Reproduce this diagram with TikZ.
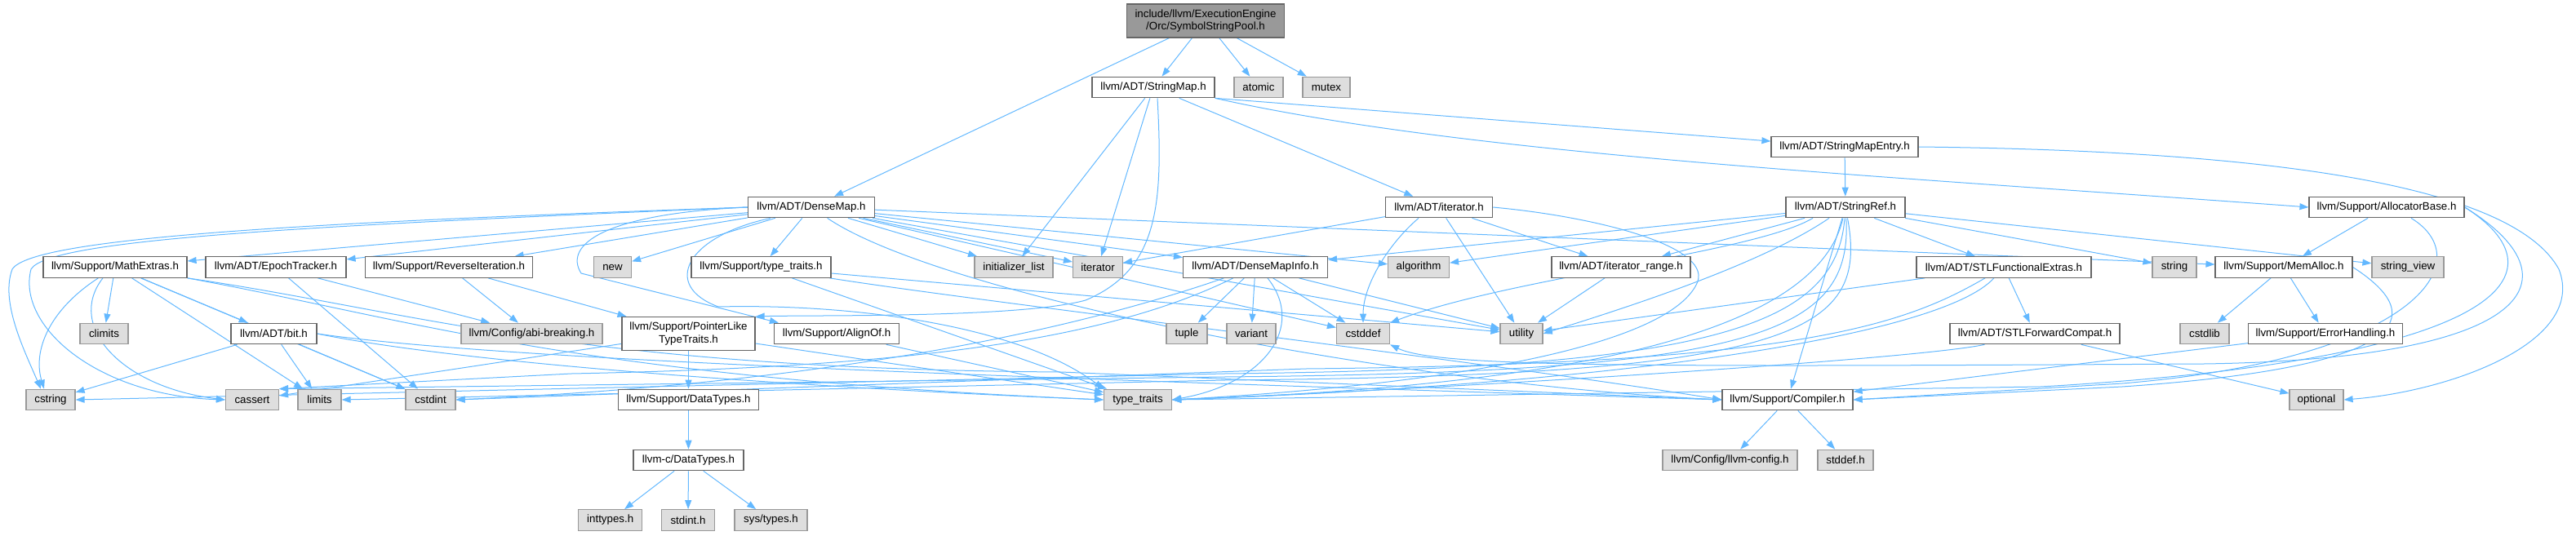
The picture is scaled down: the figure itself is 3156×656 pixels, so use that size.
\documentclass[tikz,border=0pt]{standalone}
\usepackage{fontspec}
\setmainfont{Liberation Sans}
\definecolor{grey40}{HTML}{666666}
\definecolor{grey60}{HTML}{999999}
\definecolor{grey87}{HTML}{DEDEDE}
\definecolor{edgeblue}{HTML}{63B8FF}
\usetikzlibrary{arrows.meta, backgrounds}
\newcommand{\doxfont}{\fontsize{13.3}{15.5}\selectfont}

\begin{document}
\begin{tikzpicture}[
  x=1pt, y=-1pt,
  file/.style={draw=grey40, fill=white, line width=1.2pt, minimum height=25.5pt,
               inner sep=2pt, font=\doxfont},
  ext/.style={file, draw=grey60, fill=grey87},
  mainfile/.style={file, draw=grey40, fill=grey60, align=center, minimum height=41pt},
  tall/.style={file, align=center, minimum height=41pt},
  dep/.style={draw=edgeblue, line width=1pt, -{Triangle[length=11pt,width=8pt]}},
]
\useasboundingbox (0,0) rectangle (3156,656);

% top rows
\node[mainfile, minimum width=193] (pool) at (1477,25.5) {include/llvm/ExecutionEngine\\/Orc/SymbolStringPool.h};
\node[file, minimum width=150] (stringmap) at (1413,107) {llvm/ADT/StringMap.h};
\node[ext, minimum width=60] (atomic) at (1542,107) {atomic};
\node[ext, minimum width=58] (mutex) at (1625,107) {mutex};
\node[file, minimum width=180] (stringmapentry) at (2260,180) {llvm/ADT/StringMapEntry.h};
\node[file, minimum width=155] (densemap) at (994,254) {llvm/ADT/DenseMap.h};
\node[file, minimum width=131] (iteratorh) at (1763,254) {llvm/ADT/iterator.h};
\node[file, minimum width=146] (stringref) at (2261,254) {llvm/ADT/StringRef.h};
\node[file, minimum width=190] (allocbase) at (2924,254) {llvm/Support/AllocatorBase.h};

% row 3
\node[file, minimum width=176] (mathextras) at (141,327.5) {llvm/Support/MathExtras.h};
\node[file, minimum width=172] (epochtracker) at (338,327.5) {llvm/ADT/EpochTracker.h};
\node[file, minimum width=205] (reverseiter) at (550,327.5) {llvm/Support/ReverseIteration.h};
\node[ext, minimum width=46] (new) at (750.5,327.5) {new};
\node[file, minimum width=171] (suptypetraits) at (932.5,327.5) {llvm/Support/type\_traits.h};
\node[ext, minimum width=96] (initlist) at (1242,327.5) {initializer\_list};
\node[ext, minimum width=61] (iterator) at (1345,327.5) {iterator};
\node[file, minimum width=177] (densemapinfo) at (1538,327.5) {llvm/ADT/DenseMapInfo.h};
\node[ext, minimum width=75] (algorithm) at (1738,327.5) {algorithm};
\node[file, minimum width=170] (iterrange) at (1986,327.5) {llvm/ADT/iterator\_range.h};
\node[file, minimum width=214] (stlfunc) at (2455,327.5) {llvm/ADT/STLFunctionalExtras.h};
\node[ext, minimum width=54] (string) at (2664,327.5) {string};
\node[file, minimum width=168] (memalloc) at (2798,327.5) {llvm/Support/MemAlloc.h};
\node[ext, minimum width=88] (stringview) at (2950,327.5) {string\_view};

% row 4
\node[ext, minimum width=59] (climits) at (127.5,409) {climits};
\node[file, minimum width=105] (bith) at (335.5,409) {llvm/ADT/bit.h};
\node[ext, minimum width=173] (abibreaking) at (651.5,409) {llvm/Config/abi-breaking.h};
\node[tall, minimum width=163] (pointerlike) at (843.5,409) {llvm/Support/PointerLike\\TypeTraits.h};
\node[file, minimum width=153] (alignof) at (1025,409) {llvm/Support/AlignOf.h};
\node[ext, minimum width=50] (tuple) at (1454,409) {tuple};
\node[ext, minimum width=60] (variant) at (1533,409) {variant};
\node[ext, minimum width=65] (cstddef) at (1670,409) {cstddef};
\node[ext, minimum width=52] (utility) at (1864,409) {utility};
\node[file, minimum width=208] (stlfwd) at (2493,409) {llvm/ADT/STLForwardCompat.h};
\node[ext, minimum width=60] (cstdlib) at (2701,409) {cstdlib};
\node[file, minimum width=189] (errorhandling) at (2849,409) {llvm/Support/ErrorHandling.h};

% row 5
\node[ext, minimum width=60] (cstring) at (62,490) {cstring};
\node[ext, minimum width=65] (cassert) at (309,490) {cassert};
\node[ext, minimum width=53] (limits) at (391.5,490) {limits};
\node[ext, minimum width=61] (cstdint) at (527.5,490) {cstdint};
\node[file, minimum width=172] (datatypes) at (843.5,490) {llvm/Support/DataTypes.h};
\node[ext, minimum width=83] (typetraits) at (1394,490) {type\_traits};
\node[file, minimum width=160] (compiler) at (2190,490) {llvm/Support/Compiler.h};
\node[ext, minimum width=66] (optional) at (2838,490) {optional};

% rows 6 and 7
\node[file, minimum width=135] (llvmc) at (843.5,564) {llvm-c/DataTypes.h};
\node[ext, minimum width=165] (llvmconfig) at (2119.5,564) {llvm/Config/llvm-config.h};
\node[ext, minimum width=68] (stddef) at (2261,564) {stddef.h};
\node[ext, minimum width=78] (inttypes) at (747.7,637.5) {inttypes.h};
\node[ext, minimum width=65] (stdint) at (843,637.5) {stdint.h};
\node[ext, minimum width=89] (systypes) at (944.5,637.5) {sys/types.h};

\begin{scope}[on background layer]
% SymbolStringPool.h
\draw[dep] (pool) -- (densemap);
\draw[dep] (pool) -- (stringmap);
\draw[dep] (pool) -- (atomic);
\draw[dep] (pool) -- (mutex);

% StringMap.h
\draw[dep] (stringmap.south east) -- (stringmapentry);
\draw[dep] (stringmap.south east) .. controls (1800,190) and (2300,215) .. (allocbase.west);
\draw[dep] (stringmap) -- (iteratorh);
\draw[dep] (stringmap) -- (initlist);
\draw[dep] (stringmap) -- (iterator);
\draw[dep] ([xshift=5]stringmap.south) .. controls (1425,250) and (1420,330) .. (1330,368)
  .. controls (1250,390) and (1000,386) .. (pointerlike.north east);

% StringMapEntry.h
\draw[dep] (stringmapentry) -- (stringref);
\draw[dep] (stringmapentry.east) .. controls (2800,185) and (3080,230) .. (3135,330)
  .. controls (3170,420) and (3000,480) .. (optional.east);

% DenseMap.h
\draw[dep] (densemap) -- (mathextras);
\draw[dep] (densemap) -- (epochtracker);
\draw[dep] (densemap) -- (reverseiter);
\draw[dep] (densemap) -- (new);
\draw[dep] (densemap) -- (suptypetraits);
\draw[dep] (densemap) -- (initlist);
\draw[dep] (densemap) -- (iterator);
\draw[dep] (densemap) -- (densemapinfo);
\draw[dep] (densemap) -- (algorithm);
\draw[dep] (densemap) -- (cstddef);
\draw[dep] (densemap) -- (utility);
\draw[dep] (densemap) -- (memalloc);
\draw[dep] (densemap.west) .. controls (740,262) and (690,300) .. (712,335) -- ([xshift=6]alignof.north west);
\draw[dep] ([xshift=-50]densemap.south) .. controls (840,290) and (810,350) .. (880,376)
  .. controls (1050,372) and (1250,400) .. (typetraits.north west);
\draw[dep] (densemap) .. controls (1150,360) and (1700,470) .. (compiler.west);
\draw[dep] (densemap.west) .. controls (400,272) and (40,290) .. (15,330)
  .. controls (0,370) and (30,430) .. ([xshift=-12]cstring.north);
\draw[dep] (densemap.west) .. controls (400,276) and (60,292) .. (38,330)
  .. controls (20,400) and (120,485) .. (cassert.west);

% iterator.h
\draw[dep] (iteratorh) -- (iterrange);
\draw[dep] (iteratorh) -- (utility);
\draw[dep] (iteratorh) -- (iterator);
\draw[dep] ([xshift=-25]iteratorh.south) .. controls (1700,300) and (1670,350) .. (cstddef.north);
\draw[dep] (iteratorh.east) .. controls (1950,265) and (2095,300) .. (2080,345)
  .. controls (2050,420) and (1800,470) .. (typetraits.east);

% StringRef.h
\draw[dep] (stringref) -- (densemapinfo);
\draw[dep] (stringref) -- (algorithm);
\draw[dep] (stringref) -- (iterrange);
\draw[dep] (stringref) -- (stlfunc);
\draw[dep] (stringref) -- (string);
\draw[dep] (stringref) -- (stringview);
\draw[dep] (stringref) -- (compiler);
\draw[dep] ([xshift=-40]stringref.south) .. controls (2150,310) and (1850,340) .. (cstddef.north east);
\draw[dep] ([xshift=-20]stringref.south) .. controls (2150,330) and (1950,390) .. (utility.east);
\draw[dep] (stringref) .. controls (2230,390) and (2000,470) .. (typetraits.east);
\draw[dep] (stringref) .. controls (2250,400) and (2100,452) .. (1500,458) -- (cstring.east);
\draw[dep] (stringref) .. controls (2270,410) and (2150,456) .. (1500,462) -- (cassert.north east);
\draw[dep] (stringref) .. controls (2290,410) and (2200,460) .. (1500,466) -- (limits.east);

% STLFunctionalExtras.h
\draw[dep] (stlfunc) -- (stlfwd);
\draw[dep] (stlfunc) -- (utility);
\draw[dep] (stlfunc) .. controls (2330,400) and (2200,446) .. (1600,452) -- (cstdint.east);
\draw[dep] (stlfunc) .. controls (2380,410) and (2000,470) .. (typetraits.east);

% STLForwardCompat.h
\draw[dep] (stlfwd) -- (optional);
\draw[dep] (stlfwd) .. controls (2350,440) and (1800,475) .. (typetraits.east);

% AllocatorBase.h
\draw[dep] (allocbase) -- (memalloc);
\draw[dep] ([xshift=30]allocbase.south) .. controls (3040,320) and (2960,440) .. (2600,470) -- (compiler.east);
\draw[dep] (allocbase.east) .. controls (3160,340) and (3110,440) .. (2700,446)
  .. controls (2000,450) and (1760,450) .. (cstddef.south east);
\draw[dep] (allocbase.east) .. controls (3140,330) and (3090,440) .. (2500,474) -- (typetraits.east);

% MemAlloc.h
\draw[dep] (memalloc) -- (cstdlib);
\draw[dep] (memalloc) -- (errorhandling);
\draw[dep] (memalloc.east) .. controls (2980,390) and (2950,450) .. (2600,474) -- (compiler.east);

% ErrorHandling.h
\draw[dep] (errorhandling) -- (compiler);

% Compiler.h
\draw[dep] (compiler) -- (llvmconfig);
\draw[dep] (compiler) -- (stddef);

% DenseMapInfo.h
\draw[dep] (densemapinfo) -- (tuple);
\draw[dep] (densemapinfo) -- (variant);
\draw[dep] (densemapinfo) -- (cstddef);
\draw[dep] (densemapinfo) -- (utility);
\draw[dep] ([xshift=15]densemapinfo.south) .. controls (1600,400) and (1550,470) .. (typetraits.east);
\draw[dep] (densemapinfo) .. controls (1350,420) and (1100,450) .. (700,458) -- (cassert.north east);
\draw[dep] (densemapinfo) .. controls (1300,410) and (1000,470) .. (cstdint.east);

% EpochTracker.h, ReverseIteration.h
\draw[dep] (epochtracker) -- (abibreaking);
\draw[dep] (epochtracker) -- (cstdint);
\draw[dep] (reverseiter) -- (abibreaking);
\draw[dep] (reverseiter) -- (pointerlike);

% PointerLikeTypeTraits.h
\draw[dep] (pointerlike) -- (datatypes);
\draw[dep] (pointerlike) -- (cassert);
\draw[dep] (pointerlike) -- (typetraits);

% DataTypes
\draw[dep] (datatypes) -- (llvmc);
\draw[dep] (llvmc) -- (inttypes);
\draw[dep] (llvmc) -- (stdint);
\draw[dep] (llvmc) -- (systypes);

% MathExtras.h
\draw[dep] (mathextras) -- (bith);
\draw[dep] (mathextras) -- (climits);
\draw[dep] (mathextras) -- (limits);
\draw[dep] (mathextras) -- (cstdint);
\draw[dep] (mathextras) .. controls (60,380) and (40,430) .. ([xshift=-8]cstring.north);
\draw[dep] ([xshift=-15]mathextras.south) .. controls (80,400) and (150,475) .. (cassert.west);
\draw[dep] (mathextras.south east) .. controls (500,380) and (700,452) .. (1300,456) -- (compiler.west);
\draw[dep] (mathextras.south east) .. controls (500,390) and (700,462) .. (typetraits.west);

% bit.h
\draw[dep] (bith) -- (cstring);
\draw[dep] (bith) -- (limits);
\draw[dep] (bith) -- (cstdint);
\draw[dep] (bith.east) .. controls (600,440) and (1200,462) .. (compiler.west);
\draw[dep] (bith.east) .. controls (600,452) and (1100,480) .. (typetraits.west);

% Support/type_traits.h
\draw[dep] (suptypetraits) -- (utility);
\draw[dep] (suptypetraits) -- (typetraits);
\draw[dep] (suptypetraits) .. controls (1200,370) and (1800,440) .. (compiler.west);

% AlignOf.h, iterator_range.h
\draw[dep] (alignof) -- (typetraits);
\draw[dep] (iterrange) -- (utility);
\end{scope}
\end{tikzpicture}
\end{document}
